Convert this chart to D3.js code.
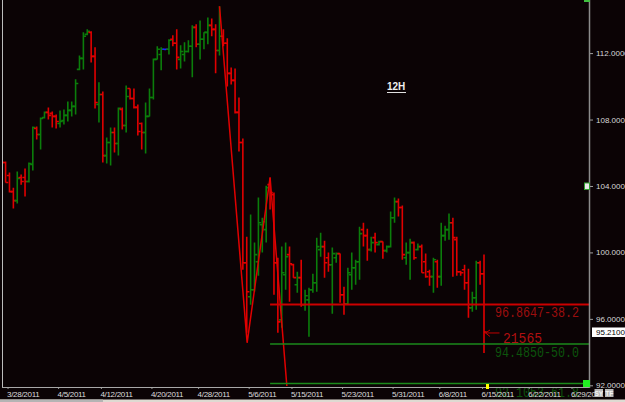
<!DOCTYPE html>
<html><head><meta charset="utf-8">
<script src="https://cdn.jsdelivr.net/npm/d3@7/dist/d3.min.js"></script>
<style>html,body{margin:0;padding:0;background:#0b0305;overflow:hidden}</style>
</head><body>
<svg id="c" width="625" height="402"></svg>
<script>
// ---- data (12H OHLC bars) ----
const opens = [105.59,105.41,104.63,103.66,103.12,104.51,104.51,104.27,105.29,107.46,107.10,108.12,108.43,108.37,108.19,107.76,107.94,108.25,108.55,108.79,
111.02,111.68,113.13,113.25,111.80,108.91,109.51,105.83,106.62,107.22,106.56,108.61,107.64,109.87,109.27,108.73,107.76,107.22,108.19,109.33,
111.62,111.92,112.23,112.23,112.83,112.59,111.62,111.92,112.10,112.41,113.55,112.53,112.83,113.25,113.67,113.43,112.16,113.01,112.59,110.78,
110.36,108.43,106.62,99.38,97.33,97.75,99.44,101.67,101.37,104.08,103.48,99.38,95.94,98.66,99.87,99.26,98.05,98.48,96.85,97.14,
97.75,98.17,100.17,100.35,99.68,99.26,99.68,99.93,97.45,96.91,98.66,99.08,99.44,101.37,101.01,100.17,100.89,100.47,100.65,100.11,
100.35,102.09,103.06,102.70,99.68,99.99,100.59,100.17,100.35,99.44,98.84,98.54,99.44,98.54,101.01,101.37,101.79,100.77,98.84,98.96,
98.17,96.67,97.27,99.38,98.72];
const highs = [105.65,105.47,104.81,103.90,104.87,104.69,105.05,105.41,107.58,107.58,108.12,108.49,108.73,108.49,108.31,108.55,108.61,109.09,109.09,110.42,
111.86,113.25,113.43,113.31,112.35,110.24,109.69,106.92,107.52,107.52,108.73,108.73,110.05,109.87,109.87,108.91,107.82,109.03,109.87,111.68,
112.41,112.35,112.23,112.83,113.07,113.43,112.47,112.65,112.77,113.67,113.73,113.97,113.25,114.15,114.09,113.73,114.82,113.43,112.89,111.14,
111.08,109.33,106.86,100.95,102.28,100.59,103.30,102.09,104.02,104.51,103.60,99.68,100.35,100.59,100.35,99.32,98.84,99.56,97.75,97.87,
98.72,100.89,101.19,100.71,99.99,100.29,99.99,99.93,97.93,99.08,99.99,99.56,101.55,101.79,101.43,100.95,101.19,100.71,100.65,100.41,
102.46,103.30,103.24,102.82,100.59,100.83,100.65,100.53,100.47,99.93,98.96,99.68,99.56,101.79,101.61,102.34,102.09,100.95,98.90,99.26,
99.02,97.63,99.50,99.50,99.87];
const lows = [104.93,104.21,103.60,102.64,102.94,104.08,103.36,104.21,104.93,106.80,106.20,108.06,108.00,107.52,107.46,107.52,107.70,107.88,108.19,108.31,
110.96,111.02,113.07,111.44,108.67,107.82,105.41,105.35,105.23,106.01,105.83,107.40,107.22,109.21,108.67,107.04,106.20,105.95,108.19,109.21,
111.62,110.96,112.23,111.92,112.41,111.02,111.08,111.50,112.04,110.54,112.35,111.62,112.23,112.53,113.01,110.78,111.86,112.41,109.99,110.11,
108.37,106.07,98.96,95.16,96.85,97.63,98.60,99.99,100.59,102.58,97.45,95.16,95.46,97.75,97.03,98.48,97.57,96.73,96.49,94.92,
97.57,97.63,99.74,98.48,98.84,96.31,99.38,96.97,96.25,96.85,97.75,98.05,98.36,100.35,99.50,100.05,99.99,100.41,99.62,99.99,
100.29,101.79,102.16,99.56,99.26,98.36,99.56,100.11,98.78,98.48,97.99,97.57,97.87,97.99,100.71,100.77,98.54,98.60,98.60,97.75,
96.06,96.43,96.55,98.05,93.95];
const closes = [105.41,104.21,103.66,103.12,104.45,104.27,104.27,105.35,107.52,107.10,108.06,108.43,108.25,108.19,107.88,107.88,108.25,108.55,108.79,110.17,
111.68,113.01,113.31,111.80,109.03,109.51,105.83,106.62,107.22,106.56,108.67,107.64,109.39,109.27,108.73,107.28,107.22,108.19,109.33,111.62,
112.23,112.23,112.23,112.77,112.59,111.74,112.10,112.10,112.41,113.55,112.53,112.83,113.25,113.67,113.43,112.16,113.01,112.59,110.78,110.36,
108.43,106.62,99.38,97.63,97.75,99.87,101.79,101.85,103.90,103.60,99.38,95.82,98.78,99.74,99.32,98.48,98.48,96.85,97.39,97.75,
98.17,100.35,100.35,99.38,99.26,99.93,99.93,97.45,96.91,98.78,99.08,99.44,101.13,101.01,100.17,100.59,100.59,100.65,100.11,100.35,
102.09,103.06,102.70,99.87,99.99,100.59,99.68,100.35,98.78,98.54,98.54,99.56,98.54,101.01,101.37,101.79,100.89,98.84,98.78,98.17,
96.67,97.27,99.38,98.72,95.21];
const tickIdx = [1.5,14.5,25.5,38.5,50.5,63.5,74.5,87.5,100.5,112.5,123.5,135.5,146.5];
const tickLabels = ["3/28/2011","4/5/2011","4/12/2011","4/20/2011","4/28/2011","5/6/2011","5/15/2011","5/23/2011","5/31/2011","6/8/2011","6/15/2011","6/22/2011","6/29/2011"];
const priceTicks = [92,96,100,104,108,112];
const zigIdx = [56, 63.1, 69, 73.4];
const zigVal = [114.82, 94.56, 104.51, 91.7];
const fibVals = [96.8647, 94.4850, 92.1053];
const fibPct = ["38.2","50.0","61.8"];
const fibStartIdx = 69;
const lastPrice = 95.21;
const lastIdx = 124;
const volumeLabel = "21565";
const title = "12H";

// ---- layout ----
const W = 625, H = 402;
const plotL = 2, plotR = 589, plotB = 387;
const svg = d3.select("#c");
svg.append("rect").attr("width", W).attr("height", H).attr("fill", "#0b0305");

const x = d3.scaleLinear().domain([0, 124]).range([1.7, 484]);
const y = d3.scaleLinear().domain([92, 112]).range([385.3, 53.1]);

svg.append("defs").append("clipPath").attr("id", "plot")
  .append("rect").attr("x", plotL).attr("y", 0).attr("width", plotR - plotL).attr("height", plotB - 1);

const g = svg.append("g").attr("clip-path", "url(#plot)");

// bars
const bars = d3.range(opens.length).map(i => ({i, o: opens[i], h: highs[i], l: lows[i], c: closes[i]}));
const col = d => d.c > d.o ? "#0b7d0b" : (d.c < d.o ? "#e00000" : "#2020ff");
g.selectAll("path.bar").data(bars).join("path")
  .attr("class", "bar")
  .attr("d", d => {
    const cx = x(d.i);
    return `M${cx},${y(d.h)}V${y(d.l) + (d.h === d.l ? 1 : 0)}M${cx - 2.7},${y(d.o)}H${cx}M${cx},${y(d.c)}H${cx + 2.7}`;
  })
  .attr("stroke", col).attr("stroke-width", 1.6).attr("fill", "none");

// zigzag
g.append("path")
  .attr("d", d3.line().x(d => x(d[0])).y(d => y(d[1]))(zigIdx.map((v, k) => [v, zigVal[k]])))
  .attr("stroke", "#e00000").attr("stroke-width", 1.5).attr("fill", "none");

// fib levels
const fibColors = ["#cc0000", "#1b8a1b", "#1b8a1b"];
const fibText = ["#9c0e0e", "#0c540c", "#0c540c"];
fibVals.forEach((v, k) => {
  svg.append("line")
    .attr("x1", x(fibStartIdx)).attr("x2", plotR)
    .attr("y1", y(v)).attr("y2", y(v))
    .attr("stroke", fibColors[k]).attr("stroke-width", k === 0 ? 2 : 1.5);
  svg.append("text")
    .attr("x", 579).attr("y", y(v) + 13)
    .attr("text-anchor", "end")
    .attr("font-family", "Liberation Mono, monospace").attr("font-size", 14)
    .attr("textLength", 84).attr("lengthAdjust", "spacingAndGlyphs")
    .attr("fill", fibText[k])
    .text(v.toFixed(4) + "-" + fibPct[k]);
});

// arrow + volume
const ax = x(lastIdx) + 1.5, ay = y(lastPrice) + 1;
svg.append("path")
  .attr("d", `M${ax + 14},${ay}H${ax}M${ax + 4.5},${ay - 3}L${ax},${ay}L${ax + 4.5},${ay + 3.5}`)
  .attr("stroke", "#c00000").attr("stroke-width", 1).attr("fill", "none");
svg.append("text")
  .attr("x", 503).attr("y", ay + 10.5)
  .attr("font-family", "Liberation Mono, monospace").attr("font-size", 14)
  .attr("textLength", 39).attr("lengthAdjust", "spacingAndGlyphs")
  .attr("fill", "#b01010").text(volumeLabel);

// title
svg.append("text").attr("x", 387).attr("y", 90)
  .attr("font-family", "Liberation Sans, Arial, sans-serif").attr("font-size", 10).attr("font-weight", "bold")
  .attr("fill", "#f0f0f0").text(title);
svg.append("line").attr("x1", 387).attr("x2", 406).attr("y1", 92.5).attr("y2", 92.5)
  .attr("stroke", "#e0e0e0").attr("stroke-width", 1);

// left border
svg.append("line").attr("x1", 2.5).attr("x2", 2.5).attr("y1", 0).attr("y2", plotB)
  .attr("stroke", "#bcbcbc").attr("stroke-width", 1);

// bottom axis
const xa = svg.append("g").attr("transform", `translate(0,${plotB})`)
  .call(d3.axisBottom(x).tickValues(tickIdx).tickFormat((d, i) => tickLabels[i]).tickSize(2).tickPadding(2));
xa.select(".domain").remove();
xa.selectAll(".tick line").attr("stroke", "#9a9a9a");
xa.selectAll(".tick text").attr("text-anchor", "start").attr("dx", -1)
  .attr("fill", "#dcdcdc").attr("font-family", "Liberation Sans, Arial, sans-serif").attr("font-size", 8)
  .attr("letter-spacing", -0.3);
svg.append("line").attr("x1", plotL).attr("x2", plotR).attr("y1", plotB + 0.5).attr("y2", plotB + 0.5)
  .attr("stroke", "#a8a8a8").attr("stroke-width", 1);

// right axis
const ya = svg.append("g").attr("transform", `translate(590,0)`)
  .call(d3.axisRight(y).tickValues(priceTicks).tickFormat(d3.format(".4f")).tickSize(3).tickPadding(3));
ya.select(".domain").remove();
ya.selectAll(".tick line").attr("stroke", "#a0a0a0");
ya.selectAll(".tick text").attr("fill", "#d8d8d8")
  .attr("font-family", "Liberation Sans, Arial, sans-serif").attr("font-size", 8);
svg.append("line").attr("x1", 589.5).attr("x2", 589.5).attr("y1", 0).attr("y2", plotB + 1)
  .attr("stroke", "#8c8c8c").attr("stroke-width", 1.5);

// last price box
svg.append("rect").attr("x", 592).attr("y", y(lastPrice) - 4.5).attr("width", 33).attr("height", 9.5).attr("fill", "#ffffff");
svg.append("text").attr("x", 596).attr("y", y(lastPrice) + 3)
  .attr("font-family", "Liberation Sans, Arial, sans-serif").attr("font-size", 8).attr("fill", "#000")
  .text(d3.format(".4f")(lastPrice));

// markers
svg.append("rect").attr("x", 584.5).attr("y", y(104) - 3).attr("width", 5).attr("height", 6.5)
  .attr("fill", "#e8e8e8").attr("stroke", "#2fa02f").attr("stroke-width", 1);
svg.append("rect").attr("x", 584).attr("y", 0).attr("width", 6).attr("height", 2).attr("fill", "#3fbf3f");
svg.append("rect").attr("x", 583).attr("y", 380).attr("width", 7).attr("height", 7).attr("fill", "#22ee22");
svg.append("rect").attr("x", 486).attr("y", 384).attr("width", 3).attr("height", 5).attr("fill", "#ffff00");

// SY / TF buttons
[["SY", 594.5], ["TF", 605]].forEach(([t, bx]) => {
  svg.append("rect").attr("x", bx).attr("y", 389).attr("width", 8.5).attr("height", 8).attr("fill", "#b8b8b8");
  svg.append("text").attr("x", bx + 4.25).attr("y", 396).attr("text-anchor", "middle")
    .attr("font-family", "Liberation Sans, Arial, sans-serif").attr("font-size", 6.5).attr("font-weight", "bold")
    .attr("fill", "#f4f4f4").text(t);
});

// bottom scrollbar strip
svg.append("rect").attr("x", 0).attr("y", 399.5).attr("width", W).attr("height", 2.5).attr("fill", "#dedad2");
svg.append("rect").attr("x", 0).attr("y", 399.5).attr("width", 103).attr("height", 2.5).attr("fill", "#b4b4b4");
</script>
</body></html>
